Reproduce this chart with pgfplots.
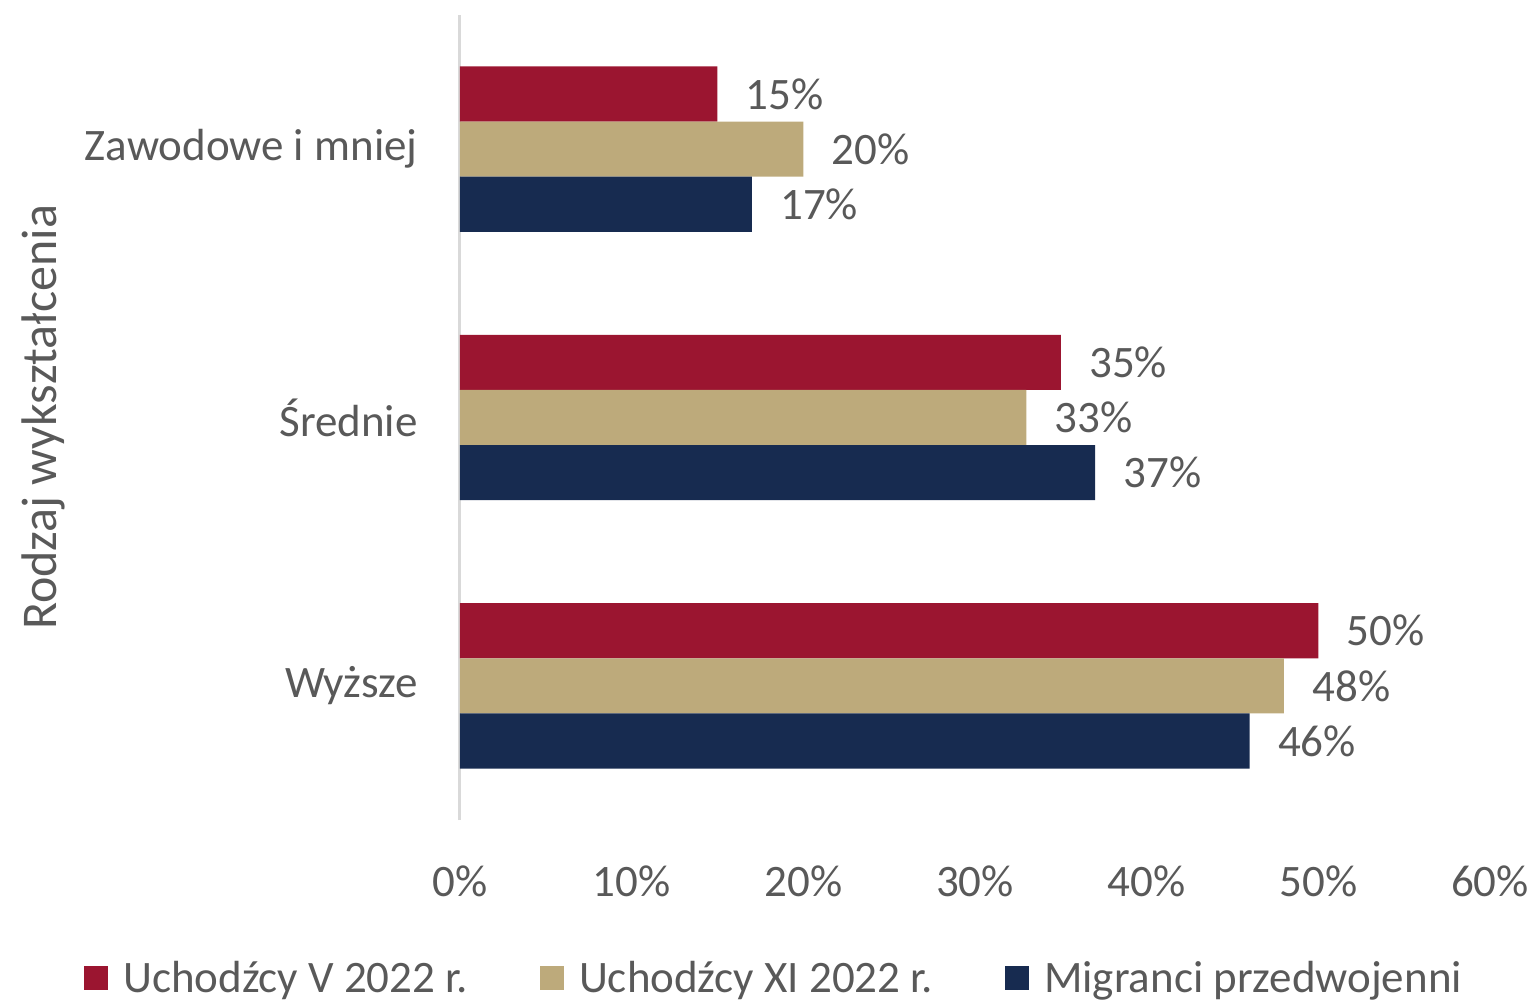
\documentclass[border=0pt]{standalone}
\usepackage{fontspec}
\setmainfont{Carlito}
\usepackage{pgfplots}
\pgfplotsset{compat=1.18}
\definecolor{cRed}{HTML}{9B1530}
\definecolor{cTan}{HTML}{BDAA7B}
\definecolor{cNavy}{HTML}{172B50}
\definecolor{txt}{HTML}{595959}
\definecolor{axl}{HTML}{D9D9D9}
\newcommand{\fs}{\fontsize{22.5}{27}\selectfont}
\newcommand{\fl}{\fontsize{25}{30}\selectfont}
\begin{document}
\begin{tikzpicture}
\begin{axis}[
  scale only axis, width=515pt, height=402.5pt,
  xbar, bar width=0.2054,
  xmin=0, xmax=60, ymin=-0.5, ymax=2.5,
  xtick={0,10,...,60}, ytick={0,1,2},
  yticklabels={Wyższe, Średnie, Zawodowe i mniej},
  xticklabel={\pgfmathprintnumber{\tick}\%},
  /pgf/number format/assume math mode=true,
  major tick length=0pt,
  axis x line*=bottom, axis y line*=left,
  x axis line style={draw=none},
  y axis line style={draw=axl, line width=1.5pt},
  tick label style={font=\fs, text=txt},
  xticklabel style={anchor=north, inner sep=0pt, yshift=-22.5pt},
  yticklabel style={anchor=east, inner sep=0pt, xshift=-21pt},
  ylabel={Rodzaj wykształcenia},
  ylabel style={font=\fl, text=txt, at={(axis description cs:-0.4044,0.5)}, anchor=center},
  point meta=x,
  nodes near coords={\pgfmathprintnumber{\pgfplotspointmeta}\%},
  nodes near coords style={font=\fs, text=txt, anchor=west, inner sep=0pt, xshift=14pt},
  legend style={at={(axis description cs:0.304,-0.1963)}, anchor=center, draw=none, fill=none,
    font=\fs, text=txt,
    /tikz/every odd column/.append style={column sep=7.5pt},
    /tikz/every even column/.append style={column sep=36pt},
    nodes={inner sep=0pt}},
  legend columns=3,
  legend image code/.code={\fill[#1] (0pt,-6pt) rectangle (12pt,6pt);},
]
\addplot[fill=cRed, draw=none, bar shift=0.2054] coordinates {(50,0) (35,1) (15,2)};
\addplot[fill=cTan, draw=none, bar shift=0] coordinates {(48,0) (33,1) (20,2)};
\addplot[fill=cNavy, draw=none, bar shift=-0.2054] coordinates {(46,0) (37,1) (17,2)};
\legend{Uchodźcy V 2022 r., Uchodźcy XI 2022 r., Migranci przedwojenni}
\coordinate (O) at (rel axis cs:0,0);
\end{axis}
\pgfresetboundingbox
\path[use as bounding box] ([shift={(-230pt,-91pt)}]O) rectangle ([shift={(537.5pt,410pt)}]O);
\end{tikzpicture}
\end{document}
